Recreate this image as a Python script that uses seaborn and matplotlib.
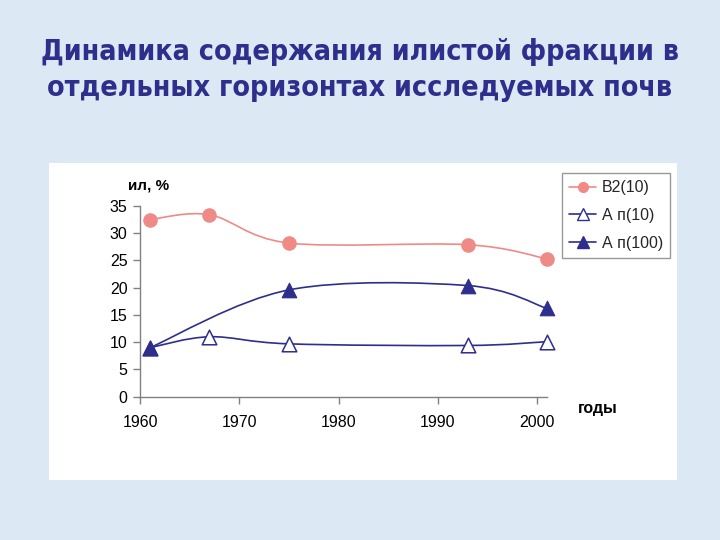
import numpy as np
import pandas as pd
import matplotlib
matplotlib.use("Agg")
import matplotlib.pyplot as plt
import seaborn as sns
from matplotlib.path import Path
from matplotlib.patches import PathPatch
from matplotlib.lines import Line2D

sns.set_theme(style="white")
plt.rcParams['font.family'] = ['Liberation Sans', 'DejaVu Sans']

title = "Динамика содержания илистой фракции в\nотдельных горизонтах исследуемых почв"
years_b2 = [1961, 1967, 1975, 1993, 2001]
b2_10 = [32.5, 33.4, 28.2, 27.9, 25.3]
years_ap10 = [1961, 1967, 1975, 1993, 2001]
ap_10 = [9.0, 11.0, 9.7, 9.4, 10.1]
years_ap100 = [1961, 1975, 1993, 2001]
ap_100 = [9.0, 19.6, 20.4, 16.2]
series_names = ["B2(10)", "А п(10)", "А п(100)"]
x_ticks = [1960, 1970, 1980, 1990, 2000]
y_ticks = [0, 5, 10, 15, 20, 25, 30, 35]

RED = "#F08A86"
NAVY = "#2E2E8C"
BG = "#DCE8F4"

fig = plt.figure(figsize=(7.2, 5.4), dpi=100)
fig.patch.set_facecolor(BG)

# white chart panel
panel = fig.add_axes([49/720, 1-480/540, (677-49)/720, (480-163)/540])
panel.set_facecolor("white")
panel.set_xticks([]); panel.set_yticks([])
for s in panel.spines.values():
    s.set_visible(False)
panel.set_zorder(0)

ax = fig.add_axes([140/720, 1-396.7/540, (547-140)/720, (396.7-206)/540])
ax.set_zorder(1)
ax.patch.set_alpha(0)


def smooth_path(xs, ys):
    pts = np.column_stack([xs, ys]).astype(float)
    n = len(pts)
    verts = [pts[0]]
    codes = [Path.MOVETO]
    for i in range(n - 1):
        p0 = pts[i - 1] if i > 0 else pts[i]
        p1 = pts[i]
        p2 = pts[i + 1]
        p3 = pts[i + 2] if i + 2 < n else pts[i + 1]
        c1 = p1 + (p2 - p0) / 6.0
        c2 = p2 - (p3 - p1) / 6.0
        verts += [c1, c2, p2]
        codes += [Path.CURVE4] * 3
    return Path(verts, codes)


for xs, ys, col in [(years_b2, b2_10, RED), (years_ap10, ap_10, NAVY), (years_ap100, ap_100, NAVY)]:
    ax.add_patch(PathPatch(smooth_path(xs, ys), facecolor="none", edgecolor=col, lw=1.2,
                           zorder=2, clip_on=False))

df_b2 = pd.DataFrame({"year": years_b2, "v": b2_10})
df_a10 = pd.DataFrame({"year": years_ap10, "v": ap_10})
df_a100 = pd.DataFrame({"year": years_ap100, "v": ap_100})

sns.scatterplot(data=df_b2, x="year", y="v", ax=ax, marker="o", s=110, color=RED,
                edgecolor=RED, linewidth=0, zorder=3, legend=False, clip_on=False)
sns.scatterplot(data=df_a10, x="year", y="v", ax=ax, marker="^", s=110, facecolor="white",
                edgecolor=NAVY, linewidth=1.1, zorder=3, legend=False, clip_on=False)
sns.scatterplot(data=df_a100, x="year", y="v", ax=ax, marker="^", s=110, color=NAVY,
                edgecolor=NAVY, linewidth=0.8, zorder=4, legend=False, clip_on=False)

ax.set_xlim(1960, 2001)
ax.set_ylim(0, 35)
ax.set_xticks(x_ticks)
ax.set_yticks(y_ticks)
ax.set_xlabel("")
ax.set_ylabel("")
for s in ["top", "right"]:
    ax.spines[s].set_visible(False)
for s in ["left", "bottom"]:
    ax.spines[s].set_color("#808080")
    ax.spines[s].set_linewidth(1.0)
ax.tick_params(axis="both", which="major", direction="out", length=5, width=1,
               color="#808080", labelsize=11.5, labelcolor="black", pad=4, bottom=True, left=True)
ax.tick_params(axis="x", pad=8)

fig.text(128/720, 1-186/540, "ил, %", fontsize=11, fontweight="bold", ha="left", va="center", color="black")
fig.text(578/720, 1-408/540, "годы", fontsize=11.5, fontweight="bold", ha="left", va="center", color="black")

handles = [
    Line2D([], [], color=RED, marker="o", markersize=7, markerfacecolor=RED, markeredgecolor=RED, lw=1.2),
    Line2D([], [], color=NAVY, marker="^", markersize=8, markerfacecolor="white", markeredgecolor=NAVY, lw=1.2),
    Line2D([], [], color=NAVY, marker="^", markersize=8, markerfacecolor=NAVY, markeredgecolor=NAVY, lw=1.2),
]
leg = fig.legend(handles, series_names, loc="upper left", bbox_to_anchor=(562/720, 1-173/540),
                 frameon=True, fancybox=False, edgecolor="#808080", fontsize=11.5,
                 handlelength=1.7, labelspacing=0.8, borderpad=0.45, handletextpad=0.35,
                 borderaxespad=0.0)
leg.get_frame().set_linewidth(1.0)

fig.text(0.5, 1-70/540, title, fontsize=20.5, fontweight="bold", color="#2E2E8C",
         ha="center", va="center", family=["DejaVu Sans"], fontstretch="condensed",
         linespacing=1.38)

fig.savefig("out.png", dpi=100, facecolor=fig.get_facecolor())
